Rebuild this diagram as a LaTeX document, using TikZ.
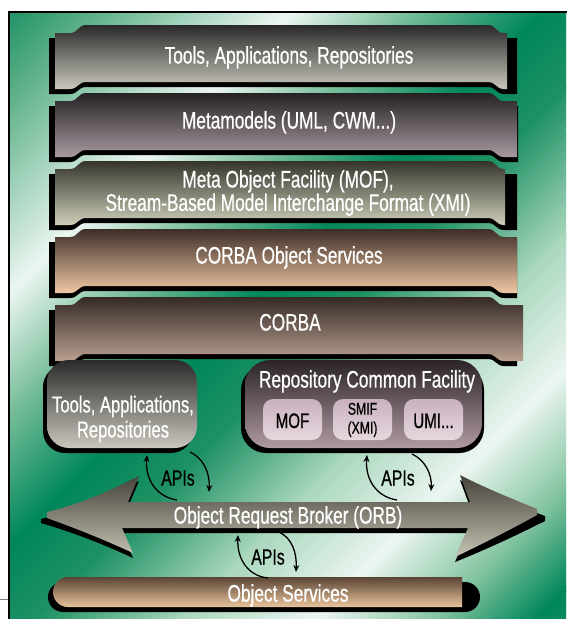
\documentclass[tikz,border=0pt]{standalone}
\usepackage{fontspec}
\setmainfont{Liberation Sans}[FakeStretch=0.72, FakeBold=0.6]
\usetikzlibrary{arrows.meta}

% background sheen colours
\definecolor{gA}{RGB}{20,140,95}
\definecolor{gB}{RGB}{90,175,135}
\definecolor{gW}{RGB}{236,246,241}
\definecolor{gC}{RGB}{120,190,155}
\definecolor{gD}{RGB}{0,135,90}
\definecolor{gE}{RGB}{30,145,100}
\definecolor{gF}{RGB}{170,215,190}
\definecolor{gG}{RGB}{130,195,160}
% layer colours (top / bottom of each gradient)
\definecolor{toolsTop}{HTML}{2A2A2A}\definecolor{toolsBot}{HTML}{CAC8BD}
\definecolor{metaTop}{HTML}{252224}\definecolor{metaBot}{HTML}{A89AA2}
\definecolor{mofTop}{HTML}{34342C}\definecolor{mofBot}{HTML}{CFCFBA}
\definecolor{cosTop}{HTML}{3D2E28}\definecolor{cosBot}{HTML}{F0C8A4}
\definecolor{corbaTop}{HTML}{352A26}\definecolor{corbaBot}{HTML}{B9A090}
\definecolor{rcfTop}{HTML}{2A2327}\definecolor{rcfBot}{HTML}{B09AA4}
\definecolor{cellTop}{HTML}{C9B1BD}\definecolor{cellBot}{HTML}{E6D8DF}
\definecolor{orbTop}{HTML}{44423A}\definecolor{orbBot}{HTML}{C6C4B2}
\definecolor{osTop}{HTML}{5A4434}\definecolor{osBot}{HTML}{E8C49C}

% one diagonal segment of the background sheen, from s=#1 to s=#2 (s = x + y)
\newcommand\sheenseg[4]{%
  \pgfmathtruncatemacro\sheennext{#1+4}%
  \foreach \s in {#1,\sheennext,...,#2}{%
    \pgfmathtruncatemacro\sheenp{(\s-#1)/(#2-#1)*100}%
    \fill[#4!\sheenp!#3] (\s,0) -- ++(6,0) -- ++(-700,700) -- ++(-6,0) -- cycle;}}

% tab-shaped layer outline: left, right, side top, centre top, centre bottom, side bottom, options
\newcommand\tabshape[7]{%
  \path[#7] (#1,#3) -- (70,#3) .. controls (78,#3) and (78,#4) .. (86,#4)
    -- (488,#4) .. controls (496,#4) and (496,#3) .. (504,#3) -- (#2,#3)
    -- (#2,#6) -- (504,#6) .. controls (496,#6) and (496,#5) .. (488,#5)
    -- (86,#5) .. controls (78,#5) and (78,#6) .. (70,#6) -- (#1,#6) -- cycle;}

% layer with its drop shadow: top, right edge, shadow right edge, top colour, bottom colour
\newcommand\layerband[5]{%
  \tabshape{49}{#3}{#1+13}{#1+5}{#1+62}{#1+69}{fill=black}%
  \tabshape{55}{#2}{#1+8}{#1}{#1+57}{#1+64}{top color=#4,bottom color=#5}}

\tikzset{
  lbl/.style={text=white, inner sep=0pt, font=\fontsize{24}{26}\selectfont},
  cell/.style={text=black, inner sep=0pt, font=\fontsize{21}{24}\selectfont},
  apilbl/.style={text=black, inner sep=0pt, font=\fontsize{22}{24}\selectfont},
  apiarrow/.style={line width=1.3pt, -{Stealth[length=7pt,width=6pt]}},
}

\begin{document}
\begin{tikzpicture}[x=1pt, y=-1pt]
\useasboundingbox (0,0) rectangle (566,619);

% green panel with diagonal sheen
\begin{scope}
  \clip (9,12) rectangle (566,619);
  \sheenseg{0}{100}{gA}{gB}
  \sheenseg{100}{300}{gB}{gW}
  \sheenseg{300}{420}{gW}{gC}
  \sheenseg{420}{552}{gC}{gD}
  \sheenseg{552}{652}{gD}{gE}
  \sheenseg{652}{800}{gE}{gF}
  \sheenseg{800}{932}{gF}{gW}
  \sheenseg{932}{1052}{gW}{gG}
  \sheenseg{1052}{1152}{gG}{gD}
  \sheenseg{1152}{1200}{gD}{gA}
\end{scope}
\draw[line width=2pt] (9,625) -- (9,12) -- (570,12);
\draw[gray, line width=0.8pt] (0,599) -- (8,599);

% stacked layers
\layerband{25}{507}{517}{toolsTop}{toolsBot}
\layerband{93}{517}{518}{metaTop}{metaBot}
\layerband{161}{505}{517}{mofTop}{mofBot}
\layerband{229}{517}{517}{cosTop}{cosBot}
\layerband{297}{523}{517}{corbaTop}{corbaBot}

\node[lbl, anchor=base] (tools) at (289,63.6) {Tools, Applications, Repositories};
\node[lbl, anchor=base] (meta) at (289,128.6) {Metamodels (UML, CWM...)};
\node[lbl, align=center, font=\fontsize{24}{21}\selectfont] (mof) at (288,193)
  {Meta Object Facility (MOF),\\Stream-Based Model Interchange Format (XMI)};
\node[lbl, anchor=base] (cos) at (289,263.6) {CORBA Object Services};
\node[lbl, anchor=base] (corba) at (290,330.6) {CORBA};

% tools box
\path[fill=black, rounded corners=22] (43,365) rectangle (193,453);
\path[top color=toolsTop, bottom color=toolsBot, rounded corners=22] (47,360) rectangle (197,448);
\node[lbl, align=center, font=\fontsize{23}{25}\selectfont] (apps) at (123,419) {Tools, Applications,\\Repositories};

% repository common facility
\path[fill=black, rounded corners=25] (241,365) rectangle (484,453);
\path[top color=rcfTop, bottom color=rcfBot, rounded corners=25] (245,360) rectangle (482,448);
\node[lbl, anchor=base] (rcf) at (367,387.6) {Repository Common Facility};
\path[top color=cellTop, bottom color=cellBot, rounded corners=10] (263,399) rectangle (322,440);
\path[top color=cellTop, bottom color=cellBot, rounded corners=10] (333,399) rectangle (392,440);
\path[top color=cellTop, bottom color=cellBot, rounded corners=10] (404,399) rectangle (463,440);
\node[cell, anchor=base] (mofcell) at (292.5,428) {MOF};
\node[cell, align=center, font=\fontsize{17}{19}\selectfont] (smif) at (362.5,420) {SMIF\\(XMI)};
\node[cell, anchor=base] (umi) at (433.5,428) {UMI...};

% object request broker arrow
\path[fill=black] (41,519) .. controls (85,508) and (115,493) .. (139,481) -- (128,507)
  -- (470,507) -- (460,480) .. controls (485,493) and (515,505) .. (545,516)
  -- (545,521) .. controls (515,536) and (485,550) .. (455,562) -- (468,533)
  -- (122,533) -- (133,558) .. controls (105,545) and (75,533) .. (41,523) -- cycle;
\path[top color=orbTop, bottom color=orbBot] (47,512) .. controls (85,503) and (115,488) .. (139,476)
  -- (128,502) -- (470,502) -- (460,475) .. controls (485,488) and (515,500) .. (537,509)
  -- (537,515) .. controls (510,530) and (480,545) .. (455,557) -- (468,528)
  -- (122,528) -- (133,553) .. controls (105,540) and (75,528) .. (47,518) -- cycle;
\node[lbl, anchor=base] (orb) at (288,523.6) {Object Request Broker (ORB)};

% object services bar
\path[fill=black, rounded corners=15] (48,582) rectangle (480,612);
\path[top color=osTop, bottom color=osBot] (462,577) [rounded corners=15] -- (53,577) -- (53,607) [sharp corners] -- (462,607) -- cycle;
\node[lbl, anchor=base] (os) at (288,601.6) {Object Services};

% API arrows
\coordinate (u1s) at (177,500); \coordinate (u1e) at (147,455);
\coordinate (d1s) at (190,452); \coordinate (d1e) at (209,492);
\coordinate (u2s) at (397,500); \coordinate (u2e) at (367,455);
\coordinate (d2s) at (412,454); \coordinate (d2e) at (431,491);
\coordinate (u3s) at (268,578); \coordinate (u3e) at (238,535);
\coordinate (d3s) at (279,532); \coordinate (d3e) at (296,572);
\draw[apiarrow] (u1s) .. controls (157,497) and (145,480) .. (u1e);
\draw[apiarrow] (d1s) .. controls (203,458) and (210,472) .. (d1e);
\draw[apiarrow] (u2s) .. controls (377,497) and (365,480) .. (u2e);
\draw[apiarrow] (d2s) .. controls (425,460) and (432,474) .. (d2e);
\draw[apiarrow] (u3s) .. controls (248,576) and (237,559) .. (u3e);
\draw[apiarrow] (d3s) .. controls (292,538) and (297,553) .. (d3e);
\node[apilbl, anchor=base] (api1) at (178,485.5) {APIs};
\node[apilbl, anchor=base] (api2) at (398,485.5) {APIs};
\node[apilbl, anchor=base] (api3) at (268,564.5) {APIs};
\end{tikzpicture}
\end{document}
